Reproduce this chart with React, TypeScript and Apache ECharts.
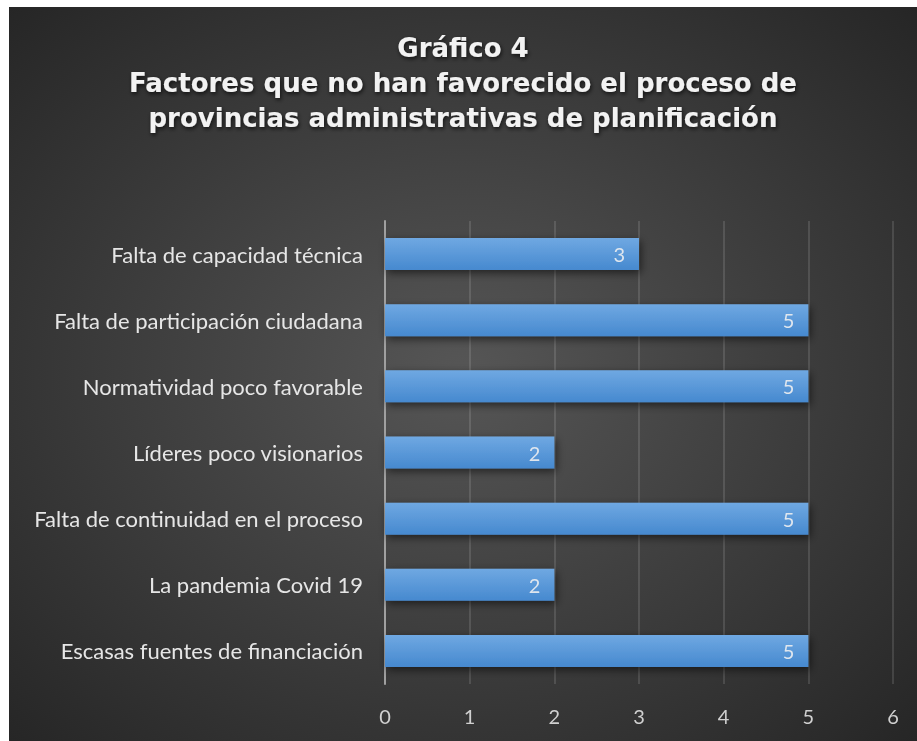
import React, { useEffect, useRef } from "react";
import * as echarts from "echarts";

const titleLines = [
  "Gráfico 4",
  "Factores que no han favorecido el proceso de",
  "provincias administrativas de planificación",
];
const categories = [
  "Falta de capacidad técnica",
  "Falta de participación ciudadana",
  "Normatividad poco favorable",
  "Líderes poco visionarios",
  "Falta de continuidad en el proceso",
  "La pandemia Covid 19",
  "Escasas fuentes de financiación",
];
const values = [3, 5, 5, 2, 5, 2, 5];
const axisMin = 0;
const axisMax = 6;
const axisStep = 1;

export default function App() {
  const ref = useRef<HTMLDivElement>(null);
  useEffect(() => {
    if (!ref.current) return;
    const chart = echarts.init(ref.current, null, { renderer: "svg" });
    const font = "Lato, 'Open Sans', sans-serif";
    chart.setOption({
      animation: false,
      graphic: [
        {
          type: "rect",
          z: -100,
          silent: true,
          shape: { x: 0, y: 0, width: 908, height: 734 },
          style: {
            fill: new echarts.graphic.RadialGradient(0.5, 0.5, 0.72, [
              { offset: 0, color: "#565656" },
              { offset: 1, color: "#252525" },
            ]),
          },
        },
      ],
      title: {
        text: titleLines.join("\n"),
        left: "center",
        top: 18,
        textStyle: {
          color: "#f2f2f2",
          fontFamily: "'DejaVu Sans', sans-serif",
          fontWeight: "bold",
          fontSize: 26,
          lineHeight: 35,
          textShadowColor: "rgba(0,0,0,0.7)",
          textShadowBlur: 4,
          textShadowOffsetX: 1,
          textShadowOffsetY: 2,
        },
      },
      grid: { left: 376, right: 24, top: 214, bottom: 57, containLabel: false },
      xAxis: {
        type: "value",
        min: axisMin,
        max: axisMax,
        interval: axisStep,
        axisLine: { show: false },
        axisTick: { show: false },
        axisLabel: { color: "#d0d0d0", fontSize: 20, fontFamily: font, margin: 22 },
        splitLine: { show: true, lineStyle: { color: "rgba(255,255,255,0.12)", width: 2 } },
      },
      yAxis: {
        type: "category",
        data: categories,
        inverse: true,
        axisLine: { show: true, lineStyle: { color: "#a0a0a0", width: 2 } },
        axisTick: { show: false },
        axisLabel: { color: "#e6e6e6", fontSize: 22, fontFamily: font, margin: 22 },
      },
      series: [
        {
          type: "bar",
          data: values,
          barWidth: 32,
          itemStyle: {
            color: new echarts.graphic.LinearGradient(0, 0, 0, 1, [
              { offset: 0, color: "#6fa8e2" },
              { offset: 1, color: "#4689cf" },
            ]),
            shadowColor: "rgba(0,0,0,0.55)",
            shadowBlur: 8,
            shadowOffsetX: 2,
            shadowOffsetY: 3,
          },
          label: {
            show: true,
            position: "insideRight",
            distance: 14,
            color: "#dfe6ee",
            fontSize: 20,
            fontFamily: font,
          },
        },
      ],
    });
    return () => chart.dispose();
  }, []);
  return (
    <div
      ref={ref}
      style={{ position: "fixed", left: 9, top: 7, width: 908, height: 734 }}
    />
  );
}
